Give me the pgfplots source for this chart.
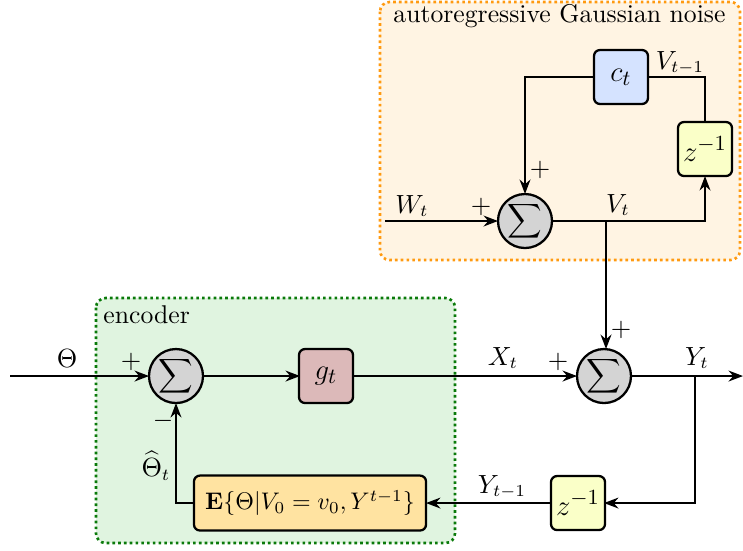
\documentclass[border=0pt]{standalone}
\usepackage{pgfplots}
\pgfplotsset{compat=1.18}
\usetikzlibrary{arrows.meta}
\definecolor{orfill}{HTML}{FFF4E3}
\definecolor{orborder}{HTML}{FF9A10}
\definecolor{grfill}{HTML}{E0F4E0}
\definecolor{grborder}{HTML}{0A7A0A}
\definecolor{cfill}{HTML}{D5E3FF}
\definecolor{zfill}{HTML}{FAFFC8}
\definecolor{gfill}{HTML}{DCB9B9}
\definecolor{efill}{HTML}{FFE3A1}
\definecolor{sumgray}{HTML}{D4D4D4}
\begin{document}
\begin{tikzpicture}[>={Stealth[length=6pt,width=4.5pt]},
  wire/.style={line width=0.95pt},
  every node/.style={font=\fontsize{10.7}{13}\selectfont},
  blk/.style={draw, line width=0.95pt, rounded corners=2.5pt, minimum width=22.5pt, minimum height=22.5pt, inner sep=0, font=\fontsize{12.3}{14}\selectfont},
  sumn/.style={circle, draw, line width=0.95pt, fill=sumgray, minimum size=22.5pt, inner sep=0}]
\begin{axis}[width=309.6pt,height=229.2pt,scale only axis,
  xmin=0,xmax=743,ymin=0,ymax=550,y dir=reverse,hide axis,clip=false]
\addplot[draw=none] coordinates {(0,0) (743,550)};
% containers
\draw[rounded corners=4pt, fill=orfill, draw=orborder, line width=1.1pt, dash pattern=on 1.1pt off 1.3pt] (380,2) rectangle (740,260);
\node[anchor=west, inner sep=0] at (393,16) {autoregressive Gaussian noise};
\draw[rounded corners=4pt, fill=grfill, draw=grborder, line width=1.1pt, dash pattern=on 1.1pt off 1.3pt] (96,298) rectangle (455,543);
\node[anchor=west, inner sep=0] at (103,315) {encoder};
% noise part wires
\draw[wire,->] (385,221) -- (498,221);
\draw[wire,->] (552,221) -- (705,221) -- (705,176);
\draw[wire] (705,122) -- (705,77) -- (648,77);
\draw[wire,->] (594,77) -- (525,77) -- (525,194);
\draw[wire,->] (606,221) -- (606,349);
% main wires
\draw[wire,->] (10,376) -- (149,376);
\draw[wire,->] (203,376) -- (300,376);
\draw[wire,->] (353,376) -- (577,376);
\draw[wire,->] (631,376) -- (743,376);
\draw[wire,->] (695,376) -- (695,503) -- (604,503);
\draw[wire,->] (551,503) -- (426,503);
\draw[wire,->] (194,503) -- (176,503) -- (176,403);
% blocks
\node[sumn] at (525,221) {$\displaystyle\sum$};
\node[sumn] at (176,376) {$\displaystyle\sum$};
\node[sumn] at (604,376) {$\displaystyle\sum$};
\node[blk, fill=cfill] at (621,77) {$c_t$};
\node[blk, fill=zfill] at (705,149) {$z^{-1}$};
\node[blk, fill=gfill] at (326,376) {$g_t$};
\node[blk, fill=zfill] at (578,503) {$z^{-1}$};
\node[draw, line width=0.95pt, rounded corners=2.5pt, fill=efill, minimum width=96.7pt, minimum height=22.9pt, inner sep=0, font=\fontsize{10.4}{12}\selectfont] at (310,503) {$\mathbf{E}\{\Theta|V_0=v_0,Y^{t-1}\}$};
% labels
\node at (412,206) {$W_t$};
\node at (481,207) {$+$};
\node at (618,205) {$V_t$};
\node at (680,63) {$V_{t-1}$};
\node at (540,170) {$+$};
\node at (67,358) {$\Theta$};
\node at (131,362) {$+$};
\node at (163,421) {$-$};
\node at (156,466) {$\widehat{\Theta}_t$};
\node at (503,358) {$X_t$};
\node at (558,362) {$+$};
\node at (621,330) {$+$};
\node at (697,358) {$Y_t$};
\node at (502,487) {$Y_{t-1}$};
\end{axis}
\pgfresetboundingbox
\path (current axis.south west) rectangle (current axis.north east);
\end{tikzpicture}
\end{document}
